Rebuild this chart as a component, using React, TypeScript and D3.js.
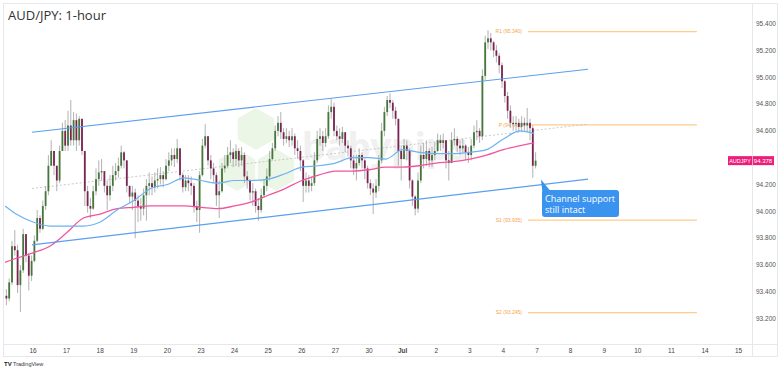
import React from 'react';
import * as d3 from 'd3';

// trading-day index: 0 = Jun 16 ... 15 = Jul 7 (weekends skipped)
const dayLabels = ['16', '17', '18', '19', '20', '23', '24', '25', '26', '27', '30', 'Jul', '2', '3', '4', '7', '8', '9', '10', '11', '14', '15'];

const priceTicks = [93.2, 93.4, 93.6, 93.8, 94.0, 94.2, 94.4, 94.6, 94.8, 95.0, 95.2, 95.4];

// price, grouped in 2-hour bars: [high, low, close]
const firstOpen = 93.37;
const jun13 = [
  [93.42, 93.30, 93.35], [93.50, 93.33, 93.47], [93.78, 93.45, 93.74], [93.86, 93.67, 93.71], [93.75, 93.39, 93.45],
  [93.60, 93.25, 93.56], [93.87, 93.54, 93.83], [93.82, 93.62, 93.67], [93.69, 93.41, 93.52], [93.67, 93.48, 93.63],
];
const jun16 = [
  [93.82, 93.62, 93.78], [94.01, 93.77, 93.95], [93.97, 93.84, 93.87], [94.08, 93.86, 94.04], [94.19, 94.01, 94.15], [94.42, 94.12, 94.34],
  [94.53, 94.34, 94.45], [94.45, 94.27, 94.34], [94.34, 94.15, 94.23], [94.49, 94.21, 94.45], [94.66, 94.45, 94.60], [94.68, 94.45, 94.49],
];
const jun17 = [
  [94.75, 94.45, 94.64], [94.83, 94.49, 94.53], [94.74, 94.49, 94.68], [94.73, 94.45, 94.53], [94.71, 94.49, 94.69], [94.69, 94.42, 94.45],
  [94.45, 94.04, 94.15], [94.19, 93.99, 94.04], [94.10, 93.95, 94.02], [94.19, 94.01, 94.15], [94.32, 94.12, 94.24], [94.38, 94.19, 94.29],
];
const jun18 = [
  [94.39, 94.23, 94.30], [94.30, 94.14, 94.19], [94.23, 94.01, 94.12], [94.27, 94.08, 94.19], [94.34, 94.15, 94.27], [94.36, 94.23, 94.30],
  [94.40, 94.25, 94.34], [94.49, 94.32, 94.44], [94.45, 94.32, 94.38], [94.38, 94.14, 94.19], [94.19, 94.06, 94.11], [94.19, 94.01, 94.14],
];
const jun19 = [
  [94.17, 93.80, 94.08], [94.12, 93.92, 94.04], [94.10, 93.93, 94.02], [94.17, 93.97, 94.12], [94.24, 93.93, 94.19], [94.29, 94.12, 94.21],
  [94.26, 94.12, 94.18], [94.29, 94.14, 94.23], [94.32, 94.17, 94.24], [94.33, 94.20, 94.27], [94.30, 94.18, 94.24], [94.39, 94.23, 94.34],
];
const jun20 = [
  [94.44, 94.30, 94.38], [94.47, 94.34, 94.42], [94.47, 94.33, 94.39], [94.54, 94.36, 94.47], [94.45, 94.23, 94.27], [94.29, 94.14, 94.18],
  [94.27, 94.15, 94.23], [94.27, 94.15, 94.21], [94.26, 94.12, 94.19], [94.21, 93.99, 94.04], [94.08, 93.92, 94.01], [94.30, 93.84, 94.27],
];
const jun23 = [
  [94.54, 94.26, 94.49], [94.65, 94.47, 94.56], [94.56, 94.34, 94.38], [94.42, 94.24, 94.32], [94.36, 94.21, 94.27], [94.29, 94.04, 94.12],
  [94.23, 93.95, 94.15], [94.36, 94.14, 94.32], [94.42, 94.29, 94.34], [94.48, 94.32, 94.42], [94.53, 94.36, 94.44], [94.47, 94.33, 94.39],
];
const jun24 = [
  [94.50, 94.34, 94.45], [94.47, 94.33, 94.38], [94.48, 94.34, 94.42], [94.44, 94.21, 94.26], [94.30, 94.17, 94.23], [94.24, 94.08, 94.14],
  [94.21, 94.04, 94.15], [94.17, 93.99, 94.04], [94.10, 93.93, 94.01], [94.17, 93.99, 94.12], [94.24, 94.10, 94.19], [94.32, 94.15, 94.26],
];
const jun25 = [
  [94.45, 94.23, 94.39], [94.51, 94.38, 94.47], [94.64, 94.45, 94.60], [94.71, 94.56, 94.66], [94.74, 94.54, 94.59], [94.62, 94.49, 94.54],
  [94.62, 94.51, 94.56], [94.60, 94.48, 94.53], [94.62, 94.49, 94.56], [94.58, 94.42, 94.47], [94.53, 94.39, 94.45], [94.49, 94.30, 94.38],
];
const jun26 = [
  [94.39, 94.07, 94.19], [94.29, 94.14, 94.23], [94.27, 94.14, 94.19], [94.26, 94.15, 94.21], [94.44, 94.19, 94.38], [94.60, 94.36, 94.54],
  [94.62, 94.49, 94.56], [94.60, 94.45, 94.51], [94.62, 94.48, 94.56], [94.79, 94.54, 94.74], [94.84, 94.69, 94.78], [94.81, 94.56, 94.60],
];
const jun27 = [
  [94.64, 94.53, 94.56], [94.62, 94.49, 94.54], [94.63, 94.51, 94.59], [94.56, 94.44, 94.49], [94.53, 94.41, 94.47], [94.49, 94.32, 94.38],
  [94.42, 94.27, 94.32], [94.42, 94.23, 94.36], [94.47, 94.34, 94.42], [94.44, 94.32, 94.38], [94.39, 94.24, 94.32], [94.34, 94.17, 94.21],
];
const jun30 = [
  [94.24, 94.12, 94.17], [94.21, 93.98, 94.14], [94.24, 94.10, 94.19], [94.42, 94.15, 94.38], [94.66, 94.36, 94.60], [94.78, 94.56, 94.74],
  [94.86, 94.71, 94.83], [94.88, 94.77, 94.81], [94.83, 94.69, 94.75], [94.78, 94.64, 94.69], [94.69, 94.34, 94.45], [94.49, 94.23, 94.39],
];
const jul1 = [
  [94.54, 94.39, 94.49], [94.53, 94.38, 94.45], [94.47, 94.17, 94.23], [94.24, 94.04, 94.11], [94.12, 93.97, 94.02], [94.29, 93.99, 94.23],
  [94.49, 94.21, 94.42], [94.51, 94.32, 94.39], [94.53, 94.34, 94.45], [94.47, 94.33, 94.38], [94.48, 94.33, 94.42], [94.51, 94.38, 94.45],
];
const jul2 = [
  [94.58, 94.44, 94.53], [94.57, 94.45, 94.51], [94.58, 94.47, 94.53], [94.53, 94.32, 94.38], [94.45, 94.23, 94.36], [94.59, 94.38, 94.53],
  [94.62, 94.49, 94.54], [94.56, 94.44, 94.49], [94.53, 94.42, 94.47], [94.54, 94.44, 94.49], [94.50, 94.38, 94.44], [94.48, 94.36, 94.42],
];
const jul3 = [
  [94.54, 94.38, 94.49], [94.64, 94.47, 94.59], [94.68, 94.53, 94.60], [94.62, 94.51, 94.56], [95.06, 94.53, 95.01], [95.31, 94.98, 95.26],
  [95.35, 95.21, 95.29], [95.33, 95.20, 95.26], [95.27, 95.15, 95.20], [95.24, 95.11, 95.16], [95.18, 95.03, 95.09], [95.11, 94.92, 94.97],
];
const jul4 = [
  [94.98, 94.81, 94.86], [94.89, 94.69, 94.75], [94.79, 94.62, 94.66], [94.71, 94.60, 94.65], [94.71, 94.60, 94.66], [94.69, 94.59, 94.63],
  [94.71, 94.60, 94.66], [94.70, 94.60, 94.64], [94.77, 94.59, 94.66], [94.69, 94.53, 94.62], [94.64, 94.25, 94.34], [94.44, 94.32, 94.378],
];

const sessions = [
  { day: -1, firstHour: 4, bars: jun13 },
  { day: 0, firstHour: 0, bars: jun16 },
  { day: 1, firstHour: 0, bars: jun17 },
  { day: 2, firstHour: 0, bars: jun18 },
  { day: 3, firstHour: 0, bars: jun19 },
  { day: 4, firstHour: 0, bars: jun20 },
  { day: 5, firstHour: 0, bars: jun23 },
  { day: 6, firstHour: 0, bars: jun24 },
  { day: 7, firstHour: 0, bars: jun25 },
  { day: 8, firstHour: 0, bars: jun26 },
  { day: 9, firstHour: 0, bars: jun27 },
  { day: 10, firstHour: 0, bars: jun30 },
  { day: 11, firstHour: 0, bars: jul1 },
  { day: 12, firstHour: 0, bars: jul2 },
  { day: 13, firstHour: 0, bars: jul3 },
  { day: 14, firstHour: 0, bars: jul4 },
];

// moving averages sampled every half day
const maDays = [-0.83, -0.5, 0, 0.5, 1, 1.5, 2, 2.5, 3, 3.5, 4, 4.5, 5, 5.5, 6, 6.5, 7, 7.5, 8, 8.5, 9, 9.5, 10, 10.5, 11, 11.5, 12, 12.5, 13, 13.5, 14, 14.5, 14.92];
const sma100 = [94.04, 93.98, 93.92, 93.89, 93.89, 93.89, 93.92, 94.01, 94.08, 94.17, 94.20, 94.25, 94.23, 94.21, 94.23, 94.23, 94.24, 94.28, 94.33, 94.34, 94.36, 94.40, 94.40, 94.39, 94.46, 94.44, 94.43, 94.43, 94.44, 94.46, 94.54, 94.60, 94.58];
const sma200 = [93.62, 93.65, 93.69, 93.74, 93.84, 93.95, 93.98, 94.02, 94.03, 94.04, 94.04, 94.04, 94.03, 94.02, 94.04, 94.07, 94.12, 94.17, 94.23, 94.27, 94.30, 94.30, 94.31, 94.33, 94.33, 94.34, 94.36, 94.37, 94.39, 94.42, 94.46, 94.49, 94.51];

// channel drawn on the chart
const channelDays = [-0.03, 16.52];
const channelTop = [94.59, 95.06];
const channelMid = [94.17, 94.65];
const channelBottom = [93.75, 94.24];

const pivotNames = ['R1', 'P', 'S1', 'S2'];
const pivotValues = [95.34, 94.645, 93.935, 93.245];
const pivotDays = [14.73, 19.76];

const lastPrice = 94.378;

const W = 780;
const H = 371;
const plotRight = 752;
const axisTop = 344;

export default function App() {
  const x = d3.scaleLinear().domain([0, 21]).range([33, 738.6]);
  const y = d3.scaleLinear().domain([93.2, 95.4]).range([318.6, 23.6]);

  const candles: { t: number; o: number; h: number; l: number; c: number }[] = [];
  let prev = firstOpen;
  sessions.forEach((s) => {
    s.bars.forEach(([hi, lo, c], k) => {
      const o = prev;
      candles.push({
        t: s.day + (s.firstHour + 2 * k + 1) / 24,
        o,
        h: Math.max(hi, o, c),
        l: Math.min(lo, o, c),
        c,
      });
      prev = c;
    });
  });

  const bw = 1.8;

  const maLine = d3
    .line<number>()
    .x((_, i) => x(maDays[i]))
    .y((d) => y(d))
    .curve(d3.curveMonotoneX);

  const straight = (vals: number[]) =>
    d3
      .line<number>()
      .x((_, i) => x(channelDays[i]))
      .y((d) => y(d))(vals) || '';

  const hexPath = (cx: number, cy: number, r: number) => {
    const pts = d3.range(6).map((i) => {
      const a = (Math.PI / 3) * i - Math.PI / 2;
      return [cx + r * Math.cos(a), cy + r * Math.sin(a)] as [number, number];
    });
    return 'M' + pts.map((p) => p.join(',')).join('L') + 'Z';
  };

  const tagY = y(lastPrice);
  // the price tag hides the tick label right under it
  const visibleTicks = priceTicks.filter((p) => Math.abs(y(p) - tagY) > 7);

  return (
    <svg width={W} height={H} style={{ position: 'absolute', left: 0, top: 0, background: '#fff' }}>
      <defs>
        <clipPath id="plot">
          <rect x={3} y={3} width={plotRight - 3} height={axisTop - 3} />
        </clipPath>
      </defs>

      {/* frame */}
      <rect x={3.5} y={3.5} width={774} height={353} fill="none" stroke="#e6e8ee" />
      <line x1={plotRight + 0.5} x2={plotRight + 0.5} y1={3} y2={357} stroke="#e6e8ee" />
      <line x1={3} x2={778} y1={axisTop + 0.5} y2={axisTop + 0.5} stroke="#e6e8ee" />

      {/* watermark */}
      <g opacity={0.5}>
        <path d={hexPath(256, 129, 21)} fill="#d8efcf" />
        <path d={hexPath(237, 170, 21)} fill="#d8efcf" />
        <path d={hexPath(276, 170, 21)} fill="#d8efcf" />
        <text x={302} y={160} fontFamily="Noto Sans, sans-serif" fontWeight={700} fontSize={37} fill="#e2e2e2">
          babypips
        </text>
      </g>

      <g clipPath="url(#plot)">
        {/* pivot levels */}
        {pivotValues.map((v, i) => (
          <g key={pivotNames[i]}>
            <line x1={x(pivotDays[0])} x2={x(pivotDays[1])} y1={y(v)} y2={y(v)} stroke="#ffcc8a" strokeWidth={1.2} />
            <text x={x(pivotDays[0]) - 6} y={y(v) + 1.8} textAnchor="end" fontSize={5} fontFamily="Liberation Sans, sans-serif" fill="#f5a54a">
              {`${pivotNames[i]} (${v.toFixed(3)})`}
            </text>
          </g>
        ))}

        {/* channel midline */}
        <path d={straight(channelMid)} stroke="#c4c4c4" strokeWidth={0.9} strokeDasharray="2 2" fill="none" />

        {/* candles */}
        {candles.map((d, i) => {
          const up = d.c >= d.o;
          const top = y(Math.max(d.o, d.c));
          const bot = y(Math.min(d.o, d.c));
          return (
            <g key={i}>
              <line x1={x(d.t)} x2={x(d.t)} y1={y(d.h)} y2={y(d.l)} stroke="#a9a9a9" strokeWidth={0.9} />
              <rect
                x={x(d.t) - bw / 2}
                y={top}
                width={bw}
                height={Math.max(0.8, bot - top)}
                fill={up ? '#44773a' : '#7a2453'}
              />
            </g>
          );
        })}

        {/* moving averages */}
        <path d={maLine(sma200) || ''} stroke="#f2559e" strokeWidth={1.3} fill="none" />
        <path d={maLine(sma100) || ''} stroke="#6eb2f2" strokeWidth={1.2} fill="none" />

        {/* channel */}
        <path d={straight(channelTop)} stroke="#5a9ff0" strokeWidth={1.1} fill="none" />
        <path d={straight(channelBottom)} stroke="#5a9ff0" strokeWidth={1.1} fill="none" />
      </g>

      {/* callout */}
      <path d="M541,179.5 L542.5,193 L550,190.5 Z" fill="#3b93f0" />
      <rect x={542} y={190} width={77} height={27} rx={3} fill="#3b93f0" />
      <text x={545} y={201.5} fontSize={9} fontFamily="Open Sans, sans-serif" fill="#fff">Channel support</text>
      <text x={545} y={213} fontSize={9} fontFamily="Open Sans, sans-serif" fill="#fff">still intact</text>

      {/* title */}
      <text x={8} y={20} fontSize={13} fontFamily="Open Sans, sans-serif" fill="#333">AUD/JPY: 1-hour</text>

      {/* price axis */}
      {visibleTicks.map((p) => (
        <text key={p} x={756} y={y(p) + 2.3} fontSize={6.5} fontFamily="Liberation Sans, sans-serif" fill="#555">
          {d3.format('.3f')(p)}
        </text>
      ))}

      {/* last price tag */}
      <rect x={728} y={tagY - 4.5} width={46} height={9} fill="#ec1e79" />
      <line x1={752.5} x2={752.5} y1={tagY - 4.5} y2={tagY + 4.5} stroke="#fff" strokeWidth={0.6} />
      <text x={740} y={tagY + 2} textAnchor="middle" fontSize={5.5} fontFamily="Liberation Sans, sans-serif" fill="#fff">AUDJPY</text>
      <text x={763} y={tagY + 2} textAnchor="middle" fontSize={6} fontFamily="Liberation Sans, sans-serif" fill="#fff">
        {d3.format('.3f')(lastPrice)}
      </text>

      {/* time axis */}
      {dayLabels.map((lab, i) => (
        <text
          key={lab + i}
          x={x(i)}
          y={352.5}
          textAnchor="middle"
          fontSize={6.5}
          fontWeight={lab === 'Jul' ? 700 : 400}
          fontFamily="Liberation Sans, sans-serif"
          fill="#444"
        >
          {lab}
        </text>
      ))}

      {/* footer */}
      <text x={4} y={366} fontSize={6} fontWeight={700} fontFamily="Liberation Sans, sans-serif" fill="#222">TV</text>
      <text x={13} y={366} fontSize={5.5} fontFamily="Liberation Sans, sans-serif" fill="#333">TradingView</text>
    </svg>
  );
}
